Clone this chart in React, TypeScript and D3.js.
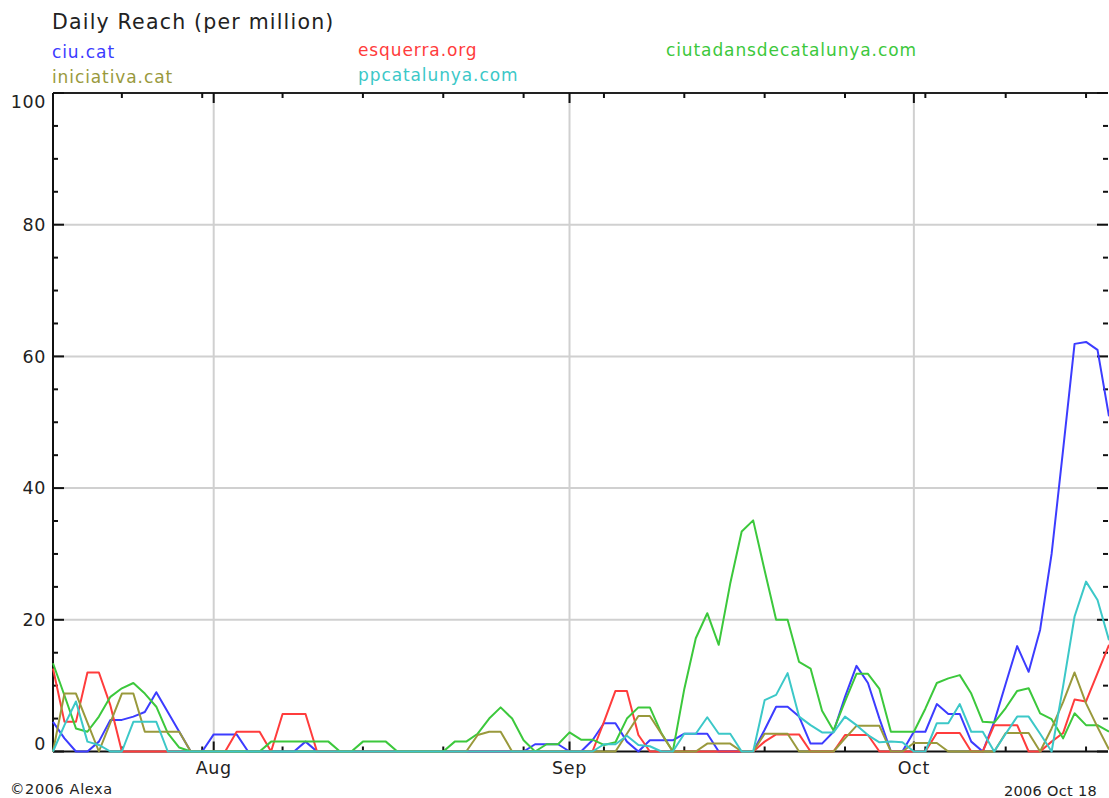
import * as d3 from "d3";

// Jul 18 .. Oct 18 2006, one value per day (93 days)
const START = new Date(2006, 6, 18);
const END = new Date(2006, 9, 18);
const days = d3.timeDay.range(START, d3.timeDay.offset(END, 1));

const ciuCat = [
  4.5, 2, 0, 0, 1.5, 4.8, 4.8, 5.3, 6.0, 9.0, 6.0, 3.0, 0,
  0, 2.6, 2.6, 2.6, 0, 0, 0, 0, 0, 1.5, 0,
  0, 0, 0, 0, 0, 0, 0, 0, 0, 0, 0, 0, 0, 0, 0, 0, 0, 0,
  1.1, 1.1, 1.1, 0, 0, 1.7, 4.3, 4.3, 1.5, 0, 1.7, 1.7, 1.7, 2.7, 2.7, 2.7,
  0, 0, 0, 0, 3.3, 6.8, 6.8, 5.3, 1.2, 1.2, 3.0, 8.3, 13.0, 10.4, 5.0,
  0, 0, 3.0, 3.0, 7.2, 5.7, 5.7, 1.5, 0, 4.5, 10.3, 16.0, 12.1, 18.5, 30, 45.8, 61.9, 62.2, 61, 50.9,
];

const esquerra = [
  12.6, 4.5, 4.5, 12.0, 12.0, 7, 0, 0, 0, 0, 0, 0, 0,
  0, 0, 0, 3.0, 3.0, 3.0, 0, 5.7, 5.7, 5.7, 0,
  0, 0, 0, 0, 0, 0, 0, 0, 0, 0, 0, 0, 0, 0, 0, 0, 0, 0,
  0, 0, 0, 0, 0, 0, 4.5, 9.2, 9.2, 2.5, 0, 0, 0, 0, 0, 0,
  0, 0, 0, 0, 1.5, 2.6, 2.6, 2.6, 0, 0, 0, 2.5, 2.5, 2.5, 0,
  0, 0, 0, 0, 2.8, 2.8, 2.8, 0, 0, 4.0, 4.0, 4.0, 0, 0, 1.5, 2.8, 7.9, 7.6, 11.9, 16.2,
];

const ciutadans = [
  13.4, 8.5, 3.5, 3.0, 5.3, 8.3, 9.6, 10.4, 8.8, 6.8, 2.8, 0.6, 0,
  0, 0, 0, 0, 0, 0, 1.5, 1.5, 1.5, 1.5, 1.5,
  1.5, 0, 0, 1.5, 1.5, 1.5, 0, 0, 0, 0, 0, 1.5, 1.5, 2.7, 5.0, 6.7, 5.0, 1.7,
  0, 1.1, 1.1, 2.9, 1.8, 1.8, 1.0, 1.4, 5.0, 6.7, 6.7, 2.8, 0, 9.5, 17.2, 21.0,
  16.2, 25.5, 33.4, 35.1, 27.5, 20.0, 20.0, 13.6, 12.6, 6.2, 3.2, 7.6, 11.8, 11.8, 9.5,
  3.0, 3.0, 3.0, 6.5, 10.4, 11.1, 11.6, 8.8, 4.5, 4.4, 6.6, 9.2, 9.6, 5.8, 4.9, 2.0, 5.8, 4.0, 4.0, 3.0,
];

const iniciativa = [
  0, 8.8, 8.8, 4.4, 0, 4.4, 8.8, 8.8, 3.0, 3.0, 3.0, 3.0, 0,
  0, 0, 0, 0, 0, 0, 0, 0, 0, 0, 0,
  0, 0, 0, 0, 0, 0, 0, 0, 0, 0, 0, 0, 0, 2.5, 3.0, 3.0, 0, 0,
  0, 0, 0, 0, 0, 0, 0, 0, 2.7, 5.4, 5.4, 2.7, 0, 0, 0, 1.2,
  1.2, 1.2, 0, 0, 2.7, 2.7, 2.7, 0, 0, 0, 0, 2.0, 3.9, 3.9, 3.9,
  0, 0, 1.3, 1.3, 1.3, 0, 0, 0, 0, 0, 2.8, 2.8, 2.8, 0, 3.5, 7.5, 12.0, 7.3, 3.7, 0.3,
];

const ppcatalunya = [
  0, 4.0, 7.6, 1.5, 1.0, 0, 0, 4.5, 4.5, 4.5, 0, 0, 0,
  0, 0, 0, 0, 0, 0, 0, 0, 0, 0, 0,
  0, 0, 0, 0, 0, 0, 0, 0, 0, 0, 0, 0, 0, 0, 0, 0, 0, 0,
  0, 0, 0, 0, 0, 0, 1.1, 1.1, 2.4, 1.0, 0.8, 0, 0, 2.7, 2.7, 5.2,
  2.7, 2.7, 0, 0, 7.8, 8.6, 11.9, 5.3, 4.0, 2.9, 2.9, 5.3, 4.0, 2.5, 1.4,
  1.5, 1.4, 0, 0, 4.3, 4.3, 7.2, 3.0, 3.0, 0, 2.7, 5.3, 5.3, 2.7, 0, 9.9, 20.5, 25.8, 23.0, 16.9,
];

const seriesNames = ["ciu.cat", "esquerra.org", "ciutadansdecatalunya.com", "iniciativa.cat", "ppcatalunya.com"];
const seriesValues = [ciuCat, esquerra, ciutadans, iniciativa, ppcatalunya];
const seriesColors = ["#3c3cff", "#ff3c3c", "#3cc83c", "#99993c", "#3cc8c8"];

const yTicks = [0, 20, 40, 60, 80, 100];
const monthLabels = ["Aug", "Sep", "Oct"];

const W = 1109;
const H = 798;
const left = 53;
const right = 1109;
const top = 93;
const bottom = 751.5;
const font = "DejaVu Sans, Verdana, sans-serif";

export default function App() {
  const x = d3.scaleTime().domain([START, END]).range([left, right]);
  const y = d3.scaleLinear().domain([0, 100]).range([bottom, top]);
  const frameRight = W - 1;

  const months = d3.timeMonth.range(START, END);
  const weeks = d3.timeMonday.range(START, END);
  const minorY = d3.range(0, 101, 5);

  const lineGen = d3
    .line<number>()
    .x((_, i) => x(days[i]))
    .y((d) => y(d));

  const legendPos = [
    [52, 58],
    [358, 56],
    [666, 56],
    [52, 83],
    [358, 81],
  ];

  return (
    <svg width={W} height={H} style={{ display: "block", background: "#fff" }} fontFamily={font}>
      <style>{"body{margin:0}"}</style>

      <text x={52} y={29} fontSize={20.5} letterSpacing={1.2} fill="#222">
        Daily Reach (per million)
      </text>
      {seriesNames.map((n, i) => (
        <text key={n} x={legendPos[i][0]} y={legendPos[i][1]} fontSize={17} letterSpacing={0.9} fill={seriesColors[i]}>
          {n}
        </text>
      ))}

      {/* grid */}
      {yTicks
        .filter((t) => t > 0 && t < 100)
        .map((t) => (
          <line key={t} x1={left} x2={frameRight} y1={y(t)} y2={y(t)} stroke="#d0d0d0" strokeWidth={2} />
        ))}
      {months.map((m) => (
        <line key={+m} x1={x(m)} x2={x(m)} y1={top} y2={bottom} stroke="#d0d0d0" strokeWidth={2} />
      ))}

      {/* frame */}
      <line x1={left} x2={frameRight} y1={top} y2={top} stroke="#222" strokeWidth={2} />
      <line x1={left} x2={frameRight} y1={bottom} y2={bottom} stroke="#111" strokeWidth={2} />
      <line x1={left} x2={left} y1={top} y2={bottom} stroke="#111" strokeWidth={2} />

      {/* y ticks */}
      {minorY.map((t) => {
        const len = t % 20 === 0 ? 11 : 5;
        return (
          <g key={t}>
            <line x1={left} x2={left + len} y1={y(t)} y2={y(t)} stroke="#111" strokeWidth={2} />
            <line x1={frameRight - len} x2={frameRight} y1={y(t)} y2={y(t)} stroke="#111" strokeWidth={2} />
          </g>
        );
      })}
      {yTicks.map((t) => (
        <text
          key={t}
          x={46}
          y={t === 100 ? y(t) + 9 : t === 0 ? y(t) - 8 : y(t)}
          dy="0.35em"
          textAnchor="end"
          fontSize={17.5}
          letterSpacing={0.6}
          fill="#222"
        >
          {t}
        </text>
      ))}

      {/* x ticks */}
      {weeks.map((w) => (
        <g key={+w}>
          <line x1={x(w)} x2={x(w)} y1={top} y2={top + 5} stroke="#111" strokeWidth={2} />
          <line x1={x(w)} x2={x(w)} y1={bottom} y2={bottom - 5} stroke="#111" strokeWidth={2} />
        </g>
      ))}
      {months.map((m, i) => (
        <g key={+m}>
          <line x1={x(m)} x2={x(m)} y1={top} y2={top + 10} stroke="#111" strokeWidth={2} />
          <line x1={x(m)} x2={x(m)} y1={bottom} y2={bottom - 10} stroke="#111" strokeWidth={2} />
          <text x={x(m)} y={774} textAnchor="middle" fontSize={17.5} letterSpacing={0.6} fill="#222">
            {monthLabels[i]}
          </text>
        </g>
      ))}

      {/* series */}
      {seriesValues.map((vals, i) => (
        <path
          key={seriesNames[i]}
          d={lineGen(vals) ?? ""}
          fill="none"
          stroke={seriesColors[i]}
          strokeWidth={2}
          strokeLinejoin="round"
        />
      ))}

      <text x={10} y={794} fontSize={14.5} letterSpacing={0.6} fill="#222">
        ©2006 Alexa
      </text>
      <text x={1097} y={796} textAnchor="end" fontSize={14.5} letterSpacing={0.3} fill="#222">
        2006 Oct 18
      </text>
    </svg>
  );
}
